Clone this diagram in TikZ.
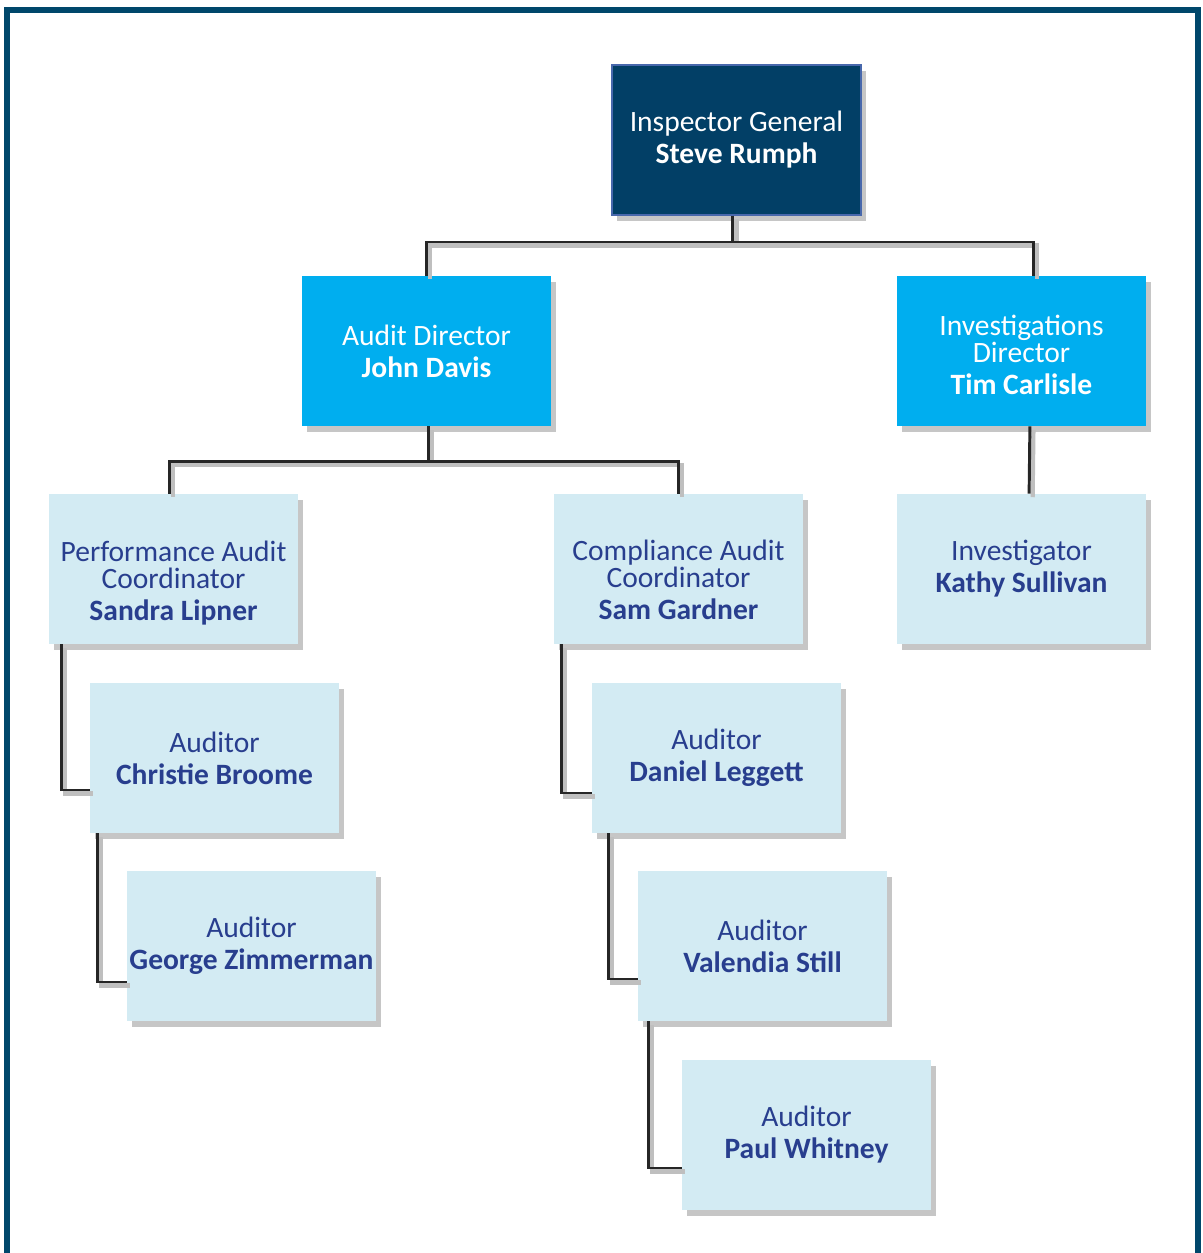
\documentclass[tikz,border=0pt]{standalone}
\usepackage{fontspec}
\setmainfont{Carlito}
\usetikzlibrary{calc,shadows}

\definecolor{framecol}{RGB}{0,71,107}
\definecolor{topfill}{RGB}{2,63,102}
\definecolor{topedge}{RGB}{72,104,172}
\definecolor{dirfill}{RGB}{0,174,239}
\definecolor{stafffill}{RGB}{211,235,243}
\definecolor{stafftext}{RGB}{40,62,142}
\newcommand{\pushdown}[1]{\rule{0pt}{#1}}

\begin{document}
\begin{tikzpicture}[x=0.25mm,y=-0.25mm,
    box/.style={rectangle,minimum width=62.25mm,minimum height=37.5mm,inner sep=0pt,
        align=center,font=\fontsize{21}{19.2}\selectfont,
        drop shadow={shadow xshift=3.5pt,shadow yshift=-4pt,opacity=0.45}},
    topbox/.style={box,fill=topfill,draw=topedge,line width=1.4pt,text=white},
    dirbox/.style={box,fill=dirfill,text=white},
    staffbox/.style={box,fill=stafffill,text=stafftext},
    link/.style={draw=black!85,line width=2.1pt,
        preaction={draw=black!25,line width=3pt,transform canvas={shift={(2.5pt,-2.5pt)}}}}]
                    \clip (0,0) rectangle (1202,1253);
                    \draw[framecol,line width=4.3pt] (7,1300) -- (7,10) -- (1198,10) -- (1198,1300);

                    \node[topbox] at (736.5,140) (ig) {Inspector General\\[3.6pt]\textbf{Steve Rumph}};
                    \node[dirbox] at (426.5,351) (audit) {Audit Director\\[3.6pt]\textbf{John Davis}};
                    \node[dirbox] at (1021.5,351) (invdir) {\pushdown{20pt}Investigations\\Director\\[3.6pt]\textbf{Tim Carlisle}};
                    \node[staffbox] at (173.5,569) (perf) {\pushdown{35pt}Performance Audit\\Coordinator\\[3.6pt]\textbf{Sandra Lipner}};
                    \node[staffbox] at (678.5,569) (comp) {\pushdown{30pt}Compliance Audit\\Coordinator\\[3.6pt]\textbf{Sam Gardner}};
                    \node[staffbox] at (1021.5,569) (investigator) {Investigator\\[3.6pt]\textbf{Kathy Sullivan}};
                    \node[staffbox] at (214.5,758) (christie) {Auditor\\[3.6pt]\textbf{Christie Broome}};
                    \node[staffbox] at (716.5,758) (daniel) {Auditor\\[3.6pt]\textbf{Daniel Leggett}};
                    \node[staffbox] at (251.5,946) (george) {Auditor\\[3.6pt]\textbf{George Zimmerman}};
                    \node[staffbox] at (762.5,946) (valendia) {Auditor\\[3.6pt]\textbf{Valendia Still}};
                    \node[staffbox] at (806.5,1135) (paul) {Auditor\\[3.6pt]\textbf{Paul Whitney}};

                    % upper levels
                    \draw[link] ([xshift=-0.9mm]ig.south) -- ++(0,26) -| (audit.north);
                    \draw[link] ([xshift=-0.9mm]ig.south) -- ++(0,26) -| ([xshift=2.9mm]invdir.north);
                    \draw[link] ([xshift=0.4mm]audit.south) -- ++(0,35) -| ([xshift=-1.1mm]perf.north);
                    \draw[link] ([xshift=0.4mm]audit.south) -- ++(0,35) -| (comp.north);
                    \draw[link] ([xshift=2.1mm]invdir.south) -- ([xshift=1.9mm]investigator.north);

                    % auditors
                    \draw[link] ($(perf.south west)+(13,0)$) |- ($(christie.west)+(0,32)$);
                    \draw[link] ($(christie.south west)+(8,0)$) |- ($(george.west)+(0,36)$);
                    \draw[link] ($(comp.south west)+(8,0)$) |- ($(daniel.west)+(0,35)$);
                    \draw[link] ($(daniel.south west)+(17,0)$) |- ($(valendia.west)+(0,33)$);
                    \draw[link] ($(valendia.south west)+(11,0)$) |- ($(paul.west)+(0,33)$);
                \end{tikzpicture}
\end{document}
